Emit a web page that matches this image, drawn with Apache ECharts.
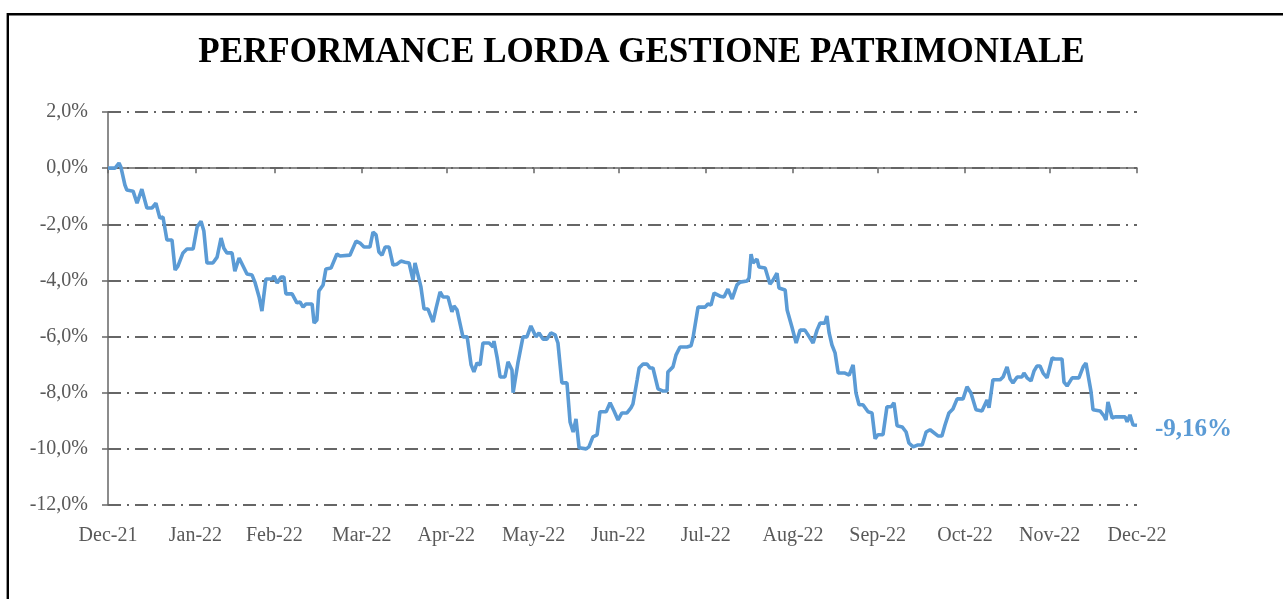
<!DOCTYPE html>
<html>
<head>
<meta charset="utf-8">
<script src="https://cdn.jsdelivr.net/npm/echarts@6/dist/echarts.min.js"></script>
<style>
html,body{margin:0;padding:0;background:#fff;}
#chart{width:1283px;height:599px;}
</style>
</head>
<body>
<div id="chart"></div>
<script>
// Days since 31 Dec 2021 for each traced observation
const days = [0,2.5,3.9,4.6,6,6.7,8.9,10.3,12,13.8,15.6,17,18.4,19.5,20.9,22.7,23.8,24.8,26.6,28,30.2,31.6,33,34,35.1,37.2,38.7,40.1,41.1,42.2,44,45,46.5,49.3,51.1,52.1,53.6,54.6,56,58.2,58.9,60,61.4,62.4,63.1,65.3,67,68.1,69.2,70.2,72.4,73.1,74.1,74.8,76.3,77.3,79.1,81.2,82.3,85.8,88,89.4,90.8,92.9,94,95.1,96.1,97.2,98.3,99.7,101.1,102.5,103.9,105.4,106.8,108.2,108.9,109.6,111,112.1,113.5,115.3,116.4,117.8,118.8,120.6,122,122.7,123.8,125.9,127.4,128.8,129.8,130.9,132,133,135.2,136.6,136.9,138,139.1,140.8,141.9,143.3,143.7,145.4,147.2,148.6,150,151.8,152.9,154.3,155.7,157.1,158.6,159.6,161,162.8,163.9,165,166,167.1,169.6,170.6,172,173.5,174.5,176.7,178.1,179.5,180.9,182.3,184.1,185.5,186.2,187.7,188.4,189.8,191.2,192.3,193.3,195.1,196.9,198.3,198.6,200.4,201.5,202.9,205.4,206.8,207.5,209.3,211.8,212.8,213.9,215,217.1,218.5,219.9,221.4,223.1,224.2,226.7,227.4,228.1,228.8,230.2,230.9,233.1,234.8,235.9,237.3,238,240.2,240.9,242.6,244.1,245.5,247.2,248.3,250.1,251.5,252.6,254.3,255,255.8,256.8,257.9,259,261.4,262.9,264.3,265.3,266.4,267.8,269.6,271,272.1,273.1,274.9,276.3,277.8,278.8,279.9,281.7,283.1,284.1,285.6,287.3,288.8,290.2,291.6,294.4,295.8,296.9,298.3,299.7,301.2,303.3,304.7,306.1,307.9,310,311.8,312.5,313.9,316.4,317.5,318.9,320,321,322.5,324.2,324.9,326,327.4,328.5,329.5,330.6,331.7,333.1,334.9,335.9,338.4,339.1,340.2,342,344.4,345.9,346.9,347.6,348.7,349.4,351.9,353.3,354,354.7,356.2,357.2,360.8,361.5,362.5,363.6,365];
// Cumulative gross performance, %
const perf = [0,0,0.18,0.03,-0.6,-0.78,-0.82,-1.25,-0.75,-1.42,-1.42,-1.25,-1.78,-1.74,-2.56,-2.56,-3.63,-3.49,-3.02,-2.88,-2.88,-2.1,-1.89,-2.24,-3.38,-3.38,-3.17,-2.49,-2.85,-3.02,-3.02,-3.67,-3.2,-3.77,-3.81,-4.06,-4.59,-5.09,-3.95,-3.95,-3.84,-4.09,-3.88,-3.88,-4.48,-4.48,-4.8,-4.77,-4.95,-4.84,-4.84,-5.52,-5.41,-4.38,-4.16,-3.59,-3.56,-3.06,-3.13,-3.1,-2.6,-2.67,-2.81,-2.81,-2.28,-2.38,-2.99,-3.1,-2.81,-2.81,-3.45,-3.42,-3.31,-3.35,-3.38,-3.99,-3.38,-3.35,-4.23,-5.02,-5.02,-5.48,-4.98,-4.41,-4.59,-4.59,-5.12,-4.91,-5.05,-6.01,-6.01,-7.01,-7.26,-6.94,-7.01,-6.23,-6.23,-6.37,-6.16,-6.73,-7.44,-7.44,-6.9,-7.19,-8.0,-6.94,-6.01,-6.01,-5.62,-6.01,-5.87,-6.09,-6.09,-5.87,-5.94,-6.23,-7.65,-7.65,-9.04,-9.4,-8.93,-9.96,-10.0,-9.93,-9.57,-9.5,-8.68,-8.68,-8.36,-8.65,-8.97,-8.72,-8.72,-8.54,-8.4,-7.54,-7.12,-6.98,-6.98,-7.12,-7.12,-7.86,-7.94,-7.94,-7.26,-7.08,-6.65,-6.37,-6.37,-6.33,-6.05,-4.95,-4.95,-4.84,-4.88,-4.45,-4.56,-4.59,-4.31,-4.66,-4.16,-4.06,-4.02,-3.91,-3.06,-3.38,-3.24,-3.52,-3.56,-4.13,-3.99,-3.74,-4.27,-4.34,-5.05,-5.66,-6.23,-5.77,-5.77,-5.94,-6.23,-5.77,-5.52,-5.52,-5.27,-5.87,-6.3,-6.58,-7.3,-7.3,-7.37,-7.01,-8.0,-8.43,-8.43,-8.68,-8.72,-9.64,-9.5,-9.5,-8.5,-8.5,-8.36,-9.18,-9.22,-9.4,-9.79,-9.93,-9.86,-9.86,-9.4,-9.32,-9.54,-9.54,-9.15,-8.72,-8.58,-8.22,-8.22,-7.79,-8.01,-8.61,-8.65,-8.26,-8.54,-7.54,-7.54,-7.44,-7.08,-7.51,-7.65,-7.44,-7.44,-7.3,-7.47,-7.58,-7.22,-7.05,-7.05,-7.3,-7.47,-6.76,-6.8,-6.8,-7.62,-7.76,-7.47,-7.47,-7.08,-6.94,-6.94,-7.97,-8.61,-8.65,-8.83,-8.97,-8.33,-8.9,-8.86,-8.86,-9.04,-8.79,-9.15,-9.16];
// Month-end positions (days since 31 Dec 2021) and their labels
const monthEnds = [0,31,59,90,120,151,181,212,243,273,304,334,365];
const monthLabels = ['Dec-21','Jan-22','Feb-22','Mar-22','Apr-22','May-22','Jun-22','Jul-22','Aug-22','Sep-22','Oct-22','Nov-22','Dec-22'];
const yTicks = [-12,-10,-8,-6,-4,-2,0,2];

const fmtPct = (v, d) => v.toFixed(d).replace('.', ',') + '%';
const chart = echarts.init(document.getElementById('chart'), null, {renderer: 'canvas'});
const axisGray = '#666666';
const serif = '"Liberation Serif", "DejaVu Serif", serif';

chart.setOption({
  animation: false,
  backgroundColor: '#fff',
  title: {
    text: 'PERFORMANCE LORDA GESTIONE PATRIMONIALE',
    left: 'center',
    top: 30,
    textStyle: {fontFamily: serif, fontWeight: 'bold', fontSize: 35, color: '#000'}
  },
  graphic: [{
    type: 'rect', silent: true,
    shape: {x: 7.8, y: 14.3, width: 1320, height: 700},
    style: {fill: 'none', stroke: '#000', lineWidth: 2.4}
  }],
  grid: {left: 108, right: 146, top: 112, bottom: 94, containLabel: false},
  xAxis: [{
    type: 'value', min: 0, max: 365, position: 'bottom',
    axisLine: {show: false, onZero: false},
    axisTick: {show: false},
    splitLine: {show: false},
    axisLabel: {
      customValues: monthEnds, margin: 21,
      fontFamily: serif, fontSize: 20, color: '#595959',
      formatter: v => monthLabels[monthEnds.indexOf(v)] || ''
    }
  }, {
    type: 'value', min: 0, max: 365, position: 'bottom',
    axisLine: {show: true, onZero: true, lineStyle: {color: axisGray, width: 1.7}},
    axisTick: {show: true, customValues: monthEnds, length: 5, lineStyle: {color: axisGray, width: 1.5}},
    axisLabel: {show: false},
    splitLine: {show: false}
  }],
  yAxis: {
    type: 'value', min: -12, max: 2, interval: 2,
    axisLine: {show: true, lineStyle: {color: axisGray, width: 1.5}},
    axisTick: {show: true, length: 6, lineStyle: {color: axisGray, width: 1.5}},
    axisLabel: {
      margin: 20, fontFamily: serif, fontSize: 20, color: '#595959',
      formatter: v => fmtPct(v, 1)
    },
    splitLine: {show: true, lineStyle: {color: axisGray, width: 1.8, type: [13, 6, 2, 6]}}
  },
  series: [{
    type: 'line',
    xAxisIndex: 0,
    data: days.map((d, i) => [d, perf[i]]),
    showSymbol: false,
    symbol: 'none',
    lineStyle: {color: '#5B9BD5', width: 3.6},
    itemStyle: {color: '#5B9BD5'},
    endLabel: {
      show: true, distance: 18, offset: [0, 4],
      formatter: p => fmtPct(p.value[1], 2),
      fontFamily: serif, fontSize: 25, fontWeight: 'bold', color: '#5B9BD5'
    },
    z: 5
  }]
});
</script>
</body>
</html>
